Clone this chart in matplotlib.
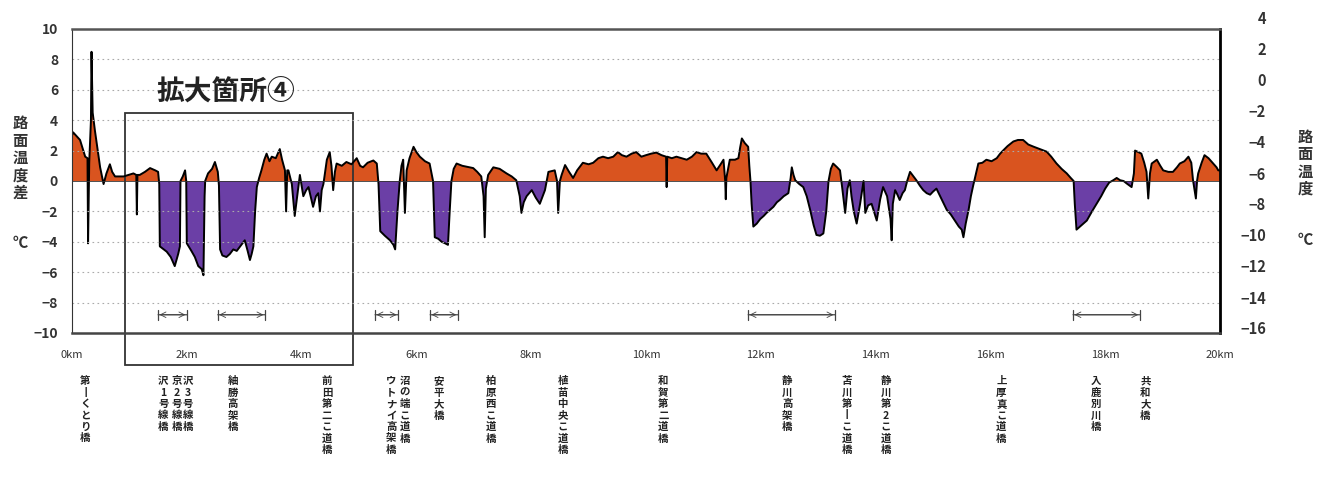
import matplotlib.pyplot as plt
from matplotlib.patches import Rectangle

# -------------------------------
# フォント
# -------------------------------
plt.rcParams['font.family'] = ['Noto Sans CJK JP', 'DejaVu Sans']

# -------------------------------
# データ (距離 km / 路面温度差 ℃)
# -------------------------------
dist = [
    0.00, 0.02, 0.14, 0.23, 0.27, 0.28, 0.30, 0.33, 0.34, 0.36, 0.40, 0.49, 0.55, 0.60, 0.66, 0.70, 0.75, 0.90,
    1.07, 1.12, 1.13, 1.14, 1.18, 1.27, 1.36, 1.45, 1.50, 1.52, 1.53, 1.65, 1.72, 1.79, 1.85, 1.88, 1.89, 1.93,
    1.97, 1.99, 2.00, 2.08, 2.14, 2.20, 2.26, 2.29, 2.31, 2.32, 2.37, 2.44, 2.49, 2.54, 2.56, 2.58, 2.62, 2.69,
    2.75, 2.81, 2.87, 2.93, 3.01, 3.06, 3.10, 3.13, 3.16, 3.19, 3.22, 3.26, 3.30, 3.35, 3.39, 3.44, 3.48, 3.55,
    3.62, 3.66, 3.71, 3.73, 3.75, 3.77, 3.83, 3.88, 3.93, 3.97, 4.03, 4.08, 4.12, 4.17, 4.20, 4.25, 4.29, 4.32,
    4.35, 4.38, 4.42, 4.44, 4.49, 4.52, 4.55, 4.58, 4.61, 4.70, 4.78, 4.87, 4.96, 5.02, 5.07, 5.15, 5.25, 5.31,
    5.34, 5.37, 5.45, 5.54, 5.60, 5.63, 5.67, 5.71, 5.74, 5.77, 5.80, 5.83, 5.88, 5.95, 6.00, 6.06, 6.15, 6.23,
    6.29, 6.32, 6.38, 6.44, 6.50, 6.55, 6.58, 6.61, 6.65, 6.70, 6.80, 6.93, 6.99, 7.06, 7.13, 7.17, 7.19, 7.21,
    7.25, 7.34, 7.45, 7.57, 7.66, 7.74, 7.80, 7.83, 7.87, 7.92, 8.01, 8.08, 8.15, 8.20, 8.24, 8.30, 8.41, 8.45,
    8.47, 8.50, 8.53, 8.59, 8.66, 8.73, 8.80, 8.90, 9.00, 9.08, 9.17, 9.25, 9.34, 9.43, 9.51, 9.58, 9.66, 9.75,
    9.83, 9.92, 10.00, 10.09, 10.18, 10.27, 10.35, 10.36, 10.37, 10.45, 10.53, 10.62, 10.71, 10.80, 10.88,
    10.96, 11.05, 11.15, 11.23, 11.30, 11.35, 11.38, 11.39, 11.40, 11.46, 11.55, 11.61, 11.64, 11.67, 11.72,
    11.78, 11.80, 11.82, 11.84, 11.87, 11.93, 11.99, 12.05, 12.10, 12.16, 12.22, 12.28, 12.33, 12.40, 12.48,
    12.52, 12.54, 12.57, 12.60, 12.67, 12.74, 12.80, 12.86, 12.92, 12.97, 13.03, 13.09, 13.14, 13.18, 13.22,
    13.26, 13.33, 13.38, 13.42, 13.47, 13.51, 13.55, 13.58, 13.62, 13.67, 13.73, 13.79, 13.82, 13.87, 13.93,
    13.97, 14.02, 14.08, 14.13, 14.20, 14.26, 14.28, 14.30, 14.34, 14.38, 14.42, 14.47, 14.51, 14.55, 14.60,
    14.66, 14.71, 14.77, 14.83, 14.89, 14.95, 15.00, 15.06, 15.15, 15.24, 15.31, 15.38, 15.45, 15.50, 15.53,
    15.57, 15.62, 15.66, 15.70, 15.75, 15.79, 15.86, 15.93, 16.02, 16.11, 16.17, 16.22, 16.30, 16.40, 16.48,
    16.57, 16.66, 16.75, 16.86, 16.98, 17.06, 17.15, 17.24, 17.33, 17.40, 17.45, 17.47, 17.50, 17.59, 17.68,
    17.77, 17.85, 17.93, 18.00, 18.07, 18.14, 18.20, 18.26, 18.32, 18.37, 18.46, 18.50, 18.52, 18.58, 18.63,
    18.68, 18.72, 18.75, 18.78, 18.81, 18.90, 18.96, 19.01, 19.10, 19.18, 19.25, 19.30, 19.38, 19.45, 19.50,
    19.53, 19.58, 19.60, 19.62, 19.68, 19.73, 19.80, 19.88, 19.94, 19.97, 20.00,
]
diff = [
    3.0, 3.2, 2.7, 1.6, 1.5, -4.1, 1.2, 4.0, 8.5, 4.5, 3.3, 0.9, -0.2, 0.5, 1.1, 0.6, 0.3, 0.3,
    0.5, 0.4, -2.2, 0.4, 0.4, 0.6, 0.85, 0.7, 0.6, -0.2, -4.3, -4.65, -5.0, -5.6, -4.8, -4.3, 0.0, 0.3,
    0.7, 0.0, -4.1, -4.6, -5.0, -5.6, -5.8, -6.2, -1.0, 0.0, 0.5, 0.8, 1.25, 0.6, -0.3, -4.5, -4.9, -5.0,
    -4.8, -4.5, -4.6, -4.3, -3.9, -4.6, -5.2, -4.8, -4.3, -2.0, -0.4, 0.2, 0.7, 1.4, 1.8, 1.3, 1.6, 1.5,
    2.1, 1.4, 0.7, -2.0, 0.7, 0.7, -0.2, -2.3, -0.8, 0.4, -1.0, -0.6, -0.4, -1.2, -1.7, -1.0, -0.8, -2.0,
    -0.6, -0.2, 0.9, 1.4, 1.9, 1.0, -0.6, 0.6, 1.15, 1.0, 1.25, 1.1, 1.5, 1.0, 0.9, 1.2, 1.35, 1.15,
    -0.2, -3.3, -3.6, -3.9, -4.2, -4.5, -2.0, 0.0, 1.0, 1.4, -2.1, 0.7, 1.5, 2.25, 1.9, 1.6, 1.3, 1.15,
    0.0, -3.7, -3.8, -4.0, -4.1, -4.2, -2.0, 0.0, 0.8, 1.15, 1.0, 0.9, 0.85, 0.6, 0.3, -1.0, -3.7, -0.5,
    0.4, 0.9, 0.8, 0.5, 0.3, 0.05, -1.0, -2.1, -1.4, -1.0, -0.6, -1.1, -1.5, -1.0, -0.6, 0.6, 0.7, 0.0,
    -2.1, 0.0, 0.4, 1.05, 0.6, 0.2, 0.7, 1.2, 1.1, 1.2, 1.5, 1.6, 1.5, 1.6, 1.9, 1.7, 1.6, 1.8,
    1.9, 1.6, 1.7, 1.8, 1.87, 1.7, 1.6, -0.4, 1.6, 1.5, 1.6, 1.5, 1.4, 1.6, 1.9,
    1.8, 1.8, 1.2, 0.7, 1.1, 1.4, 0.0, -1.2, 0.2, 1.4, 1.4, 1.5, 2.2, 2.8, 2.5,
    2.25, 1.0, 0.0, -1.5, -3.0, -2.8, -2.5, -2.3, -2.1, -1.9, -1.7, -1.4, -1.25, -1.0, -0.8,
    0.2, 0.9, 0.4, 0.05, -0.2, -0.4, -1.0, -1.9, -2.9, -3.55, -3.6, -3.45, -2.0, 0.0, 0.8,
    1.15, 0.9, 0.7, -0.5, -2.1, -0.5, 0.05, -1.0, -2.0, -2.8, -1.5, 0.0, -2.1, -1.6, -1.5,
    -2.0, -2.6, -1.2, -0.4, -1.0, -2.5, -3.9, -1.5, -0.6, -0.9, -1.25, -0.8, -0.6, 0.0, 0.6,
    0.3, 0.05, -0.3, -0.6, -0.8, -0.9, -0.7, -0.5, -1.2, -1.9, -2.2, -2.6, -3.0, -3.2, -3.7,
    -2.8, -1.9, -1.0, -0.3, 0.5, 1.15, 1.2, 1.4, 1.3, 1.5, 1.8, 2.0, 2.3, 2.6, 2.7,
    2.7, 2.4, 2.26, 2.1, 1.93, 1.6, 1.16, 0.8, 0.5, 0.2, 0.0, -1.5, -3.2, -2.9, -2.6,
    -2.0, -1.5, -1.0, -0.5, -0.1, 0.05, 0.2, 0.05, 0.0, -0.15, -0.4, 0.5, 2.0, 1.9, 1.8,
    1.2, 0.6, -1.15, 0.5, 1.15, 1.4, 1.0, 0.7, 0.6, 0.6, 0.9, 1.15, 1.3, 1.6, 1.2,
    0.05, -1.15, 0.0, 0.5, 1.2, 1.7, 1.5, 1.16, 0.9, 0.7, 0.7,
]

# 軸ラベル
km_ticks = [0, 2, 4, 6, 8, 10, 12, 14, 16, 18, 20]
km_labels = [f'{k}km' for k in km_ticks]
left_ticks = [10, 8, 6, 4, 2, 0, -2, -4, -6, -8, -10]
right_ticks = [4, 2, 0, -2, -4, -6, -8, -10, -12, -14, -16]

# 橋の名前と位置 (km)
bridge_km = [0.23, 1.59, 1.83, 2.02, 2.80, 4.44, 5.56, 5.80, 6.39, 7.30, 8.55, 10.30,
             12.46, 13.50, 14.18, 16.19, 17.84, 18.70]
bridge_names = ['第丨くとり橋', '沢1号線橋', '京2号線橋', '沢3号線橋', '紬勝高架橋', '前田第二こ道橋',
                'ウトナイ高架橋', '沼の端こ道橋', '安平大橋', '柏原西こ道橋', '植苗中央こ道橋', '和賀第二道橋',
                '静川高架橋', '苫川第丨こ道橋', '静川第2こ道橋', '上厚真こ道橋', '入鹿別川橋', '共和大橋']

# 区間 (矢印)
span_start = [1.50, 2.54, 5.28, 6.24, 11.78, 17.44]
span_end = [2.00, 3.36, 5.68, 6.72, 13.29, 18.60]

# -------------------------------
# グラフ
# -------------------------------
fig = plt.figure(figsize=(13.26, 4.79), dpi=100)
ax = fig.add_axes([72 / 1326, 146 / 479, 1148 / 1326, 304 / 479])

ax.fill_between(dist, diff, 0, where=[d >= 0 for d in diff], interpolate=True,
                color='#d9541f', linewidth=0)
ax.fill_between(dist, diff, 0, where=[d <= 0 for d in diff], interpolate=True,
                color='#6b3fa6', linewidth=0)
ax.plot(dist, diff, color='black', linewidth=1.4)
ax.axhline(0, color='#333333', linewidth=0.6)

ax.set_xlim(0, 20)
ax.set_ylim(-10, 10)
ax.set_yticks(left_ticks)
ax.set_xticks(km_ticks)
ax.set_xticklabels(km_labels, fontsize=8, color='#333333')
ax.tick_params(axis='x', length=0, pad=12)
ax.tick_params(axis='y', length=0, labelsize=10, pad=10)
for t in ax.get_yticklabels():
    t.set_fontweight('bold')
    t.set_color('#333333')

# 点線グリッド
for v in left_ticks:
    if v not in (10, -10, 0):
        ax.axhline(v, color='#aaaaaa', linewidth=0.8, linestyle=(0, (1.5, 3)))

ax.spines['top'].set_color('#555555')
ax.spines['top'].set_linewidth(1.8)
ax.spines['bottom'].set_color('#444444')
ax.spines['bottom'].set_linewidth(1.8)
ax.spines['left'].set_color('#333333')
ax.spines['right'].set_color('black')
ax.spines['right'].set_linewidth(2)

# 区間の矢印
for s, e in zip(span_start, span_end):
    ax.annotate('', xy=(e, -8.8), xytext=(s, -8.8),
                arrowprops=dict(arrowstyle='|-|, widthA=0.35, widthB=0.35', color='#444444', lw=0.9,
                                shrinkA=0, shrinkB=0))
    ax.annotate('', xy=(e, -8.8), xytext=(s, -8.8),
                arrowprops=dict(arrowstyle='<->, head_length=0.4, head_width=0.2', color='#444444',
                                lw=0.6, shrinkA=1, shrinkB=1))

# 拡大箇所④の枠
ax.add_patch(Rectangle((0.92, -12.1), 3.98, 16.57, fill=False, edgecolor='#333333',
                       linewidth=1.3, clip_on=False))
ax.text(2.68, 5.9, '拡大箇所④', fontsize=20, fontweight='bold', ha='center', va='center',
        color='#222222')

# 橋の名前 (縦書き)
for k, name in zip(bridge_km, bridge_names):
    ax.text(k, -0.142, '\n'.join(name), transform=ax.get_xaxis_transform(), ha='center', va='top',
            fontsize=7.5, fontweight='bold', linespacing=1.18, color='#222222')

# 左の軸タイトル
fig.text(20 / 1326, 1 - 158 / 479, '\n'.join('路面温度差'), fontsize=11, fontweight='bold',
         ha='center', va='center', linespacing=1.1, color='#333333')
fig.text(20 / 1326, 1 - 243 / 479, '℃', fontsize=11, fontweight='bold', ha='center', va='center',
         color='#333333')

# 右の軸 (路面温度)
ax2 = fig.add_axes([1266 / 1326, 151 / 479, 0.001, 310 / 479])
ax2.set_ylim(-16, 4)
ax2.set_yticks(right_ticks)
ax2.set_xticks([])
ax2.tick_params(axis='y', length=0, labelsize=10.5, pad=0)
for t in ax2.get_yticklabels():
    t.set_fontweight('bold')
    t.set_color('#333333')
for sp in ax2.spines.values():
    sp.set_visible(False)
ax2.patch.set_visible(False)

fig.text(1305 / 1326, 1 - 163 / 479, '\n'.join('路面温度'), fontsize=11, fontweight='bold',
         ha='center', va='center', linespacing=1.1, color='#333333')
fig.text(1305 / 1326, 1 - 240 / 479, '℃', fontsize=11, fontweight='bold', ha='center', va='center',
         color='#333333')

plt.savefig('out.png', dpi=100)
